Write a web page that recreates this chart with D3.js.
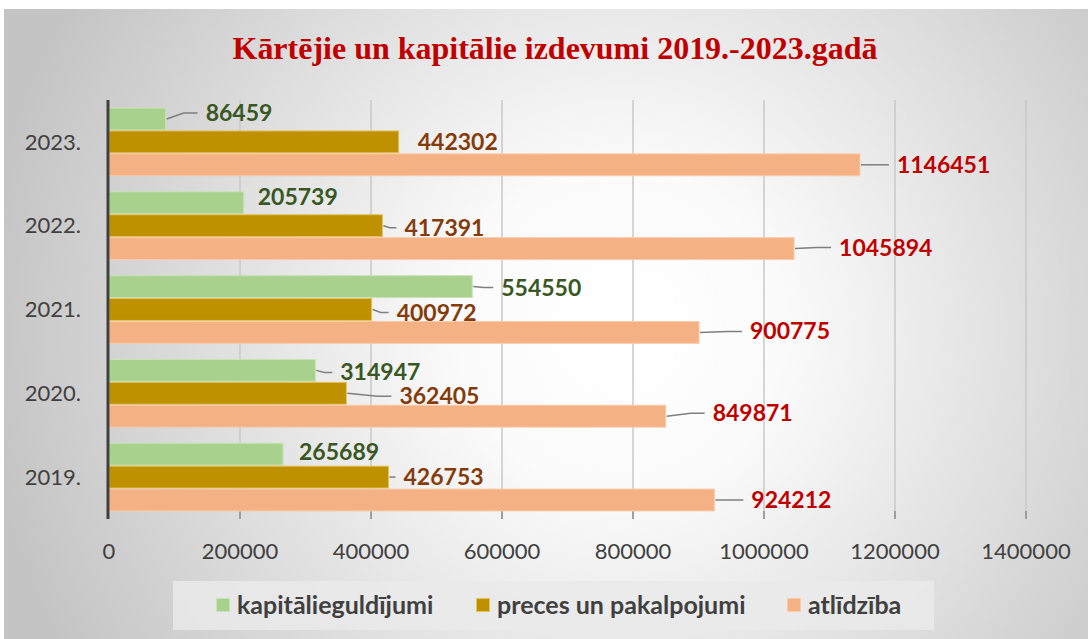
<!DOCTYPE html>
<html>
<head>
<meta charset="utf-8">
<script src="https://cdn.jsdelivr.net/npm/d3@7"></script>
<style>
  html, body { margin: 0; padding: 0; background: #fff; }
  svg { display: block; }
</style>
</head>
<body>
<div class="chart"></div>
<script>
// values
const years = ["2023.", "2022.", "2021.", "2020.", "2019."];
const kapitalieguldijumi = [86459, 205739, 554550, 314947, 265689];
const precesPakalpojumi = [442302, 417391, 400972, 362405, 426753];
const atlidziba = [1146451, 1045894, 900775, 849871, 924212];
const seriesNames = ["kapitālieguldījumi", "preces un pakalpojumi", "atlīdzība"];
const xTicks = [0, 200000, 400000, 600000, 800000, 1000000, 1200000, 1400000];
const title = "Kārtējie un kapitālie izdevumi 2019.-2023.gadā";

// label placement (dx from bar end, dy from bar centre, leader line on/off)
const labelOffsets = [
  [[40, -6, 1], [14, -6, 0], [29, 1, 1], [25, 2, 1], [16, -2, 0]],
  [[19, 0, 0], [22, 2, 1], [25, 3, 1], [53, 3, 1], [15, 0, 1]],
  [[37, 0, 1], [45, -1, 1], [51, -1, 1], [47, -3, 1], [37, 0, 1]]
];

const colors = ["#a9d18e", "#bf9000", "#f4b183"];
const strokes = ["#c9e3b7", "#e3c45e", "#f8cbad"];
const labelColors = ["#385723", "#843c0c", "#c00000"];

const W = 1088, H = 639;
const margin = { top: 100, right: 62, bottom: 120, left: 109 };

const svg = d3.select(".chart").append("svg")
  .attr("width", W).attr("height", H);

// background with radial gradient
const defs = svg.append("defs");
const grad = defs.append("radialGradient")
  .attr("id", "bg")
  .attr("gradientUnits", "userSpaceOnUse")
  .attr("cx", 620).attr("cy", 330).attr("r", 640);
grad.append("stop").attr("offset", "0").attr("stop-color", "#ffffff");
grad.append("stop").attr("offset", "0.25").attr("stop-color", "#fbfbfb");
grad.append("stop").attr("offset", "1").attr("stop-color", "#c4c4c4");

svg.append("rect")
  .attr("x", 4).attr("y", 9)
  .attr("width", W).attr("height", H)
  .attr("fill", "url(#bg)");

// title
svg.append("text")
  .attr("x", 555).attr("y", 59)
  .attr("text-anchor", "middle")
  .attr("font-family", "'Liberation Serif', 'Times New Roman', serif")
  .attr("font-weight", "bold")
  .attr("font-size", 31)
  .attr("fill", "#c00000")
  .attr("textLength", 645)
  .attr("lengthAdjust", "spacingAndGlyphs")
  .text(title);

const x = d3.scaleLinear()
  .domain([0, 1400000])
  .range([margin.left, W - margin.right]);

const y = d3.scaleBand()
  .domain(years)
  .range([margin.top, H - margin.bottom])
  .paddingInner(0.18)
  .paddingOuter(0.09);

const sub = d3.scaleBand()
  .domain([0, 1, 2])
  .range([0, y.bandwidth()]);

const plotBottom = H - margin.bottom;

// gridlines
svg.append("g")
  .selectAll("line")
  .data(xTicks.slice(1))
  .join("line")
  .attr("x1", d => x(d)).attr("x2", d => x(d))
  .attr("y1", margin.top).attr("y2", plotBottom)
  .attr("stroke", "#c9c9c9")
  .attr("stroke-width", 1.5);

// tick marks at the bottom
svg.append("g")
  .selectAll("line")
  .data(xTicks.slice(1))
  .join("line")
  .attr("x1", d => x(d)).attr("x2", d => x(d))
  .attr("y1", plotBottom - 8).attr("y2", plotBottom)
  .attr("stroke", "#8c8c8c")
  .attr("stroke-width", 1.5);

// x tick labels
svg.append("g")
  .selectAll("text")
  .data(xTicks)
  .join("text")
  .attr("x", d => x(d))
  .attr("y", 551)
  .attr("dy", "0.35em")
  .attr("text-anchor", "middle")
  .attr("font-family", "Lato, sans-serif")
  .attr("font-size", 22)
  .attr("fill", "#404040")
  .text(d => d);

// year labels
svg.append("g")
  .selectAll("text")
  .data(years)
  .join("text")
  .attr("x", 81)
  .attr("y", d => y(d) + y.bandwidth() / 2)
  .attr("dy", "0.35em")
  .attr("text-anchor", "end")
  .attr("font-family", "Lato, sans-serif")
  .attr("font-size", 22)
  .attr("fill", "#404040")
  .text(d => d);

const series = [kapitalieguldijumi, precesPakalpojumi, atlidziba];

// bars
series.forEach((vals, s) => {
  svg.append("g")
    .selectAll("rect")
    .data(vals)
    .join("rect")
    .attr("x", x(0))
    .attr("y", (d, i) => y(years[i]) + sub(s) + 0.5)
    .attr("width", d => x(d) - x(0))
    .attr("height", sub.bandwidth() - 1)
    .attr("fill", colors[s])
    .attr("stroke", strokes[s])
    .attr("stroke-width", 1);
});

// y axis line
svg.append("line")
  .attr("x1", x(0) - 1).attr("x2", x(0) - 1)
  .attr("y1", margin.top).attr("y2", plotBottom)
  .attr("stroke", "#404040")
  .attr("stroke-width", 3);

// data labels with leader lines
series.forEach((vals, s) => {
  const g = svg.append("g");
  vals.forEach((v, i) => {
    const [dx, dy, leader] = labelOffsets[s][i];
    const bx = x(v);
    const cy = y(years[i]) + sub(s) + sub.bandwidth() / 2;
    const tx = bx + dx, ty = cy + dy;
    if (leader) {
      const end = tx - 8;
      const h = Math.min(14, (end - bx - 1) / 2);
      g.append("path")
        .attr("d", d3.line()([[bx + 1, cy], [end - h, ty], [end, ty]]))
        .attr("fill", "none")
        .attr("stroke", "#7f7f7f")
        .attr("stroke-width", 1.5);
    }
    g.append("text")
      .attr("x", tx).attr("y", ty)
      .attr("dy", "0.35em")
      .attr("font-family", "Lato, sans-serif")
      .attr("font-weight", "bold")
      .attr("font-size", 23)
      .attr("fill", labelColors[s])
      .text(v);
  });
});

// legend
const legend = svg.append("g");
legend.append("rect")
  .attr("x", 173).attr("y", 581)
  .attr("width", 761).attr("height", 49)
  .attr("fill", "#eaeaea")
  .attr("opacity", 0.85);

const legendX = [216, 476, 787];
seriesNames.forEach((name, s) => {
  legend.append("rect")
    .attr("x", legendX[s] + 0.5).attr("y", 598.5)
    .attr("width", 13).attr("height", 13)
    .attr("fill", colors[s])
    .attr("stroke", strokes[s]);
  legend.append("text")
    .attr("x", legendX[s] + 21).attr("y", 605)
    .attr("dy", "0.35em")
    .attr("font-family", "Lato, sans-serif")
    .attr("font-weight", "bold")
    .attr("font-size", 25)
    .attr("fill", "#404040")
    .text(name);
});
</script>
</body>
</html>
